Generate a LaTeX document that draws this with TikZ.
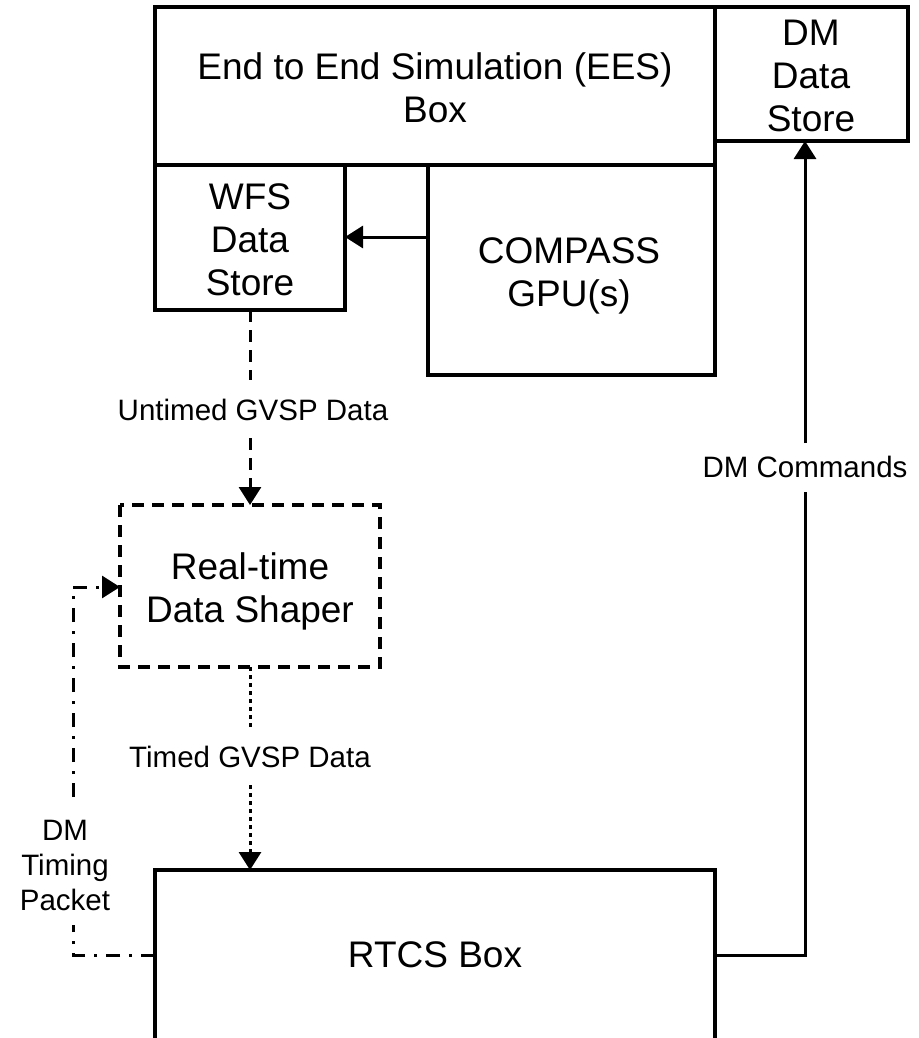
\documentclass[tikz,border=0pt]{standalone}
\usepackage{fontspec}
\setmainfont{Liberation Sans}
\usetikzlibrary{arrows.meta}
\begin{document}
\begin{tikzpicture}[x=1pt,y=-1pt,
  big/.style={font=\fontsize{37}{43}\selectfont, align=center},
  small/.style={font=\fontsize{29.5}{35}\selectfont, align=center},
  boxline/.style={draw, line width=3.8pt},
  conn/.style={line width=3pt},
  tip/.style={-{Triangle[width=22pt,length=18pt]}},
  dashline/.style={dash pattern=on 12pt off 8pt},
  dotline/.style={dash pattern=on 4pt off 4pt},
  dashdotline/.style={dash pattern=on 14pt off 9pt on 3pt off 9pt}
]
\useasboundingbox (0,0) rectangle (918,1038);

% boxes
\draw[boxline] (155,7) rectangle (715,165);
\node[big] (ees) at (435,88) {End to End Simulation (EES)\\Box};
\draw[boxline] (715,7) rectangle (908,141);
\node[big] (dm) at (811,76) {DM\\Data\\Store};
\coordinate (dmS) at (805,141);
\draw[boxline] (155,165) rectangle (345,310);
\node[big] (wfs) at (250,240) {WFS\\Data\\Store};
\coordinate (wfsS) at (250,310);
\coordinate (wfsE) at (345,237);
\draw[boxline] (428,165) rectangle (715,375);
\node[big] (compass) at (569,276) {COMPASS\\GPU(s)};
\coordinate (compW) at (428,237);
\draw[boxline, dashline] (120,505) rectangle (380,667);
\node[big] (shaper) at (250,591) {Real-time\\Data Shaper};
\coordinate (shN) at (250,505);
\coordinate (shS) at (250,667);
\coordinate (shW) at (120,587);
\draw[boxline] (155,1042) -- (155,870) -- (715,870) -- (715,1042);
\node[big] (rtcs) at (435,955) {RTCS Box};
\coordinate (rtN) at (250,870);
\coordinate (rtE) at (715,955);
\coordinate (rtW) at (155,955);

% labels
\node[small] (lunt) at (253,410) {Untimed GVSP Data};
\node[small] (ltim) at (250,757) {Timed GVSP Data};
\node[small] (ldmc) at (805,467) {DM Commands};
\node[small] (ldmt) at (65,865) {DM\\Timing\\Packet};

% connectors
\draw[conn, tip] (compW) -- (wfsE);
\coordinate (u1) at (250,380);
\coordinate (u2) at (250,438);
\draw[conn, dashline] (wfsS) -- (u1);
\draw[conn, dashline, tip] (u2) -- (shN);
\coordinate (t1) at (250,727);
\coordinate (t2) at (250,785);
\draw[conn, dotline] (shS) -- (t1);
\draw[conn, dotline, tip] (t2) -- (rtN);
\coordinate (c1) at (805,955);
\coordinate (c2) at (805,492);
\coordinate (c3) at (805,443);
\draw[conn] (rtE) -- (c1) -- (c2);
\draw[conn, tip] (c3) -- (dmS);
\coordinate (d1) at (73,955);
\coordinate (d2) at (73,925);
\coordinate (d3) at (73,797);
\coordinate (d4) at (73,587);
\draw[conn, dashdotline] (rtW) -- (d1) -- (d2);
\draw[conn, dashdotline, tip] (d3) -- (d4) -- (shW);
\end{tikzpicture}
\end{document}
